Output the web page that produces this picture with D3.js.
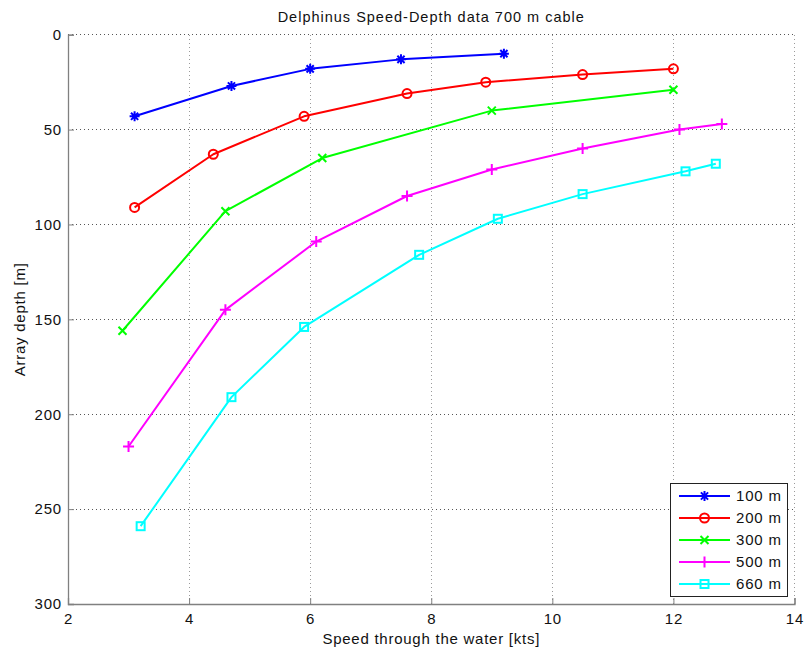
<!DOCTYPE html>
<html>
<head>
<meta charset="utf-8">
<script src="https://cdnjs.cloudflare.com/ajax/libs/d3/7.8.5/d3.min.js"></script>
<style>
  html, body { margin: 0; padding: 0; background: #fff; }
  svg { display: block; font-family: "Liberation Sans", Arial, sans-serif; }
</style>
</head>
<body>
<div id="chart"></div>
<script>
// Speed (kts) vs. array depth (m) for each cable-out length
const speed100 = [3.1, 4.7, 6.0, 7.5, 9.2];
const depth100 = [43, 27, 18, 13, 10];

const speed200 = [3.1, 4.4, 5.9, 7.6, 8.9, 10.5, 12.0];
const depth200 = [91, 63, 43, 31, 25, 21, 18];

const speed300 = [2.9, 4.6, 6.2, 9.0, 12.0];
const depth300 = [156, 93, 65, 40, 29];

const speed500 = [3.0, 4.6, 6.1, 7.6, 9.0, 10.5, 12.1, 12.8];
const depth500 = [217, 145, 109, 85, 71, 60, 50, 47];

const speed660 = [3.2, 4.7, 5.9, 7.8, 9.1, 10.5, 12.2, 12.7];
const depth660 = [259, 191, 154, 116, 97, 84, 72, 68];

const seriesNames = ["100 m", "200 m", "300 m", "500 m", "660 m"];
const xTicks = [2, 4, 6, 8, 10, 12, 14];
const yTicks = [0, 50, 100, 150, 200, 250, 300];

const series = [
  { name: seriesNames[0], xs: speed100, ys: depth100, color: "#0000ff", marker: "star" },
  { name: seriesNames[1], xs: speed200, ys: depth200, color: "#ff0000", marker: "circle" },
  { name: seriesNames[2], xs: speed300, ys: depth300, color: "#00ff00", marker: "x" },
  { name: seriesNames[3], xs: speed500, ys: depth500, color: "#ff00ff", marker: "plus" },
  { name: seriesNames[4], xs: speed660, ys: depth660, color: "#00ffff", marker: "square" }
];

const W = 808, H = 655;
const plotLeft = 68, plotRight = 794.5, plotTop = 34.7, plotBottom = 604;

const svg = d3.select("#chart").append("svg").attr("width", W).attr("height", H);

const x = d3.scaleLinear().domain([2, 14]).range([plotLeft, plotRight]);
const y = d3.scaleLinear().domain([0, 300]).range([plotTop, plotBottom]);

// Grid lines
const grid = svg.append("g");
grid.selectAll("line.vg").data(xTicks.slice(1)).join("line")
  .attr("x1", d => x(d)).attr("x2", d => x(d))
  .attr("y1", plotTop).attr("y2", plotBottom)
  .attr("stroke", "#9a9a9a").attr("stroke-width", 1)
  .attr("stroke-dasharray", "1,3").attr("shape-rendering", "crispEdges");
grid.selectAll("line.hg").data(yTicks.slice(0, -1)).join("line")
  .attr("x1", plotLeft).attr("x2", plotRight)
  .attr("y1", d => y(d)).attr("y2", d => y(d))
  .attr("stroke", "#555").attr("stroke-width", 1)
  .attr("stroke-dasharray", "1,3").attr("shape-rendering", "crispEdges");

// Axes
const xAxis = d3.axisBottom(x).tickValues(xTicks).tickSize(-6).tickPadding(9).tickFormat(d3.format("d"));
const yAxis = d3.axisLeft(y).tickValues(yTicks).tickSize(-6).tickPadding(6).tickFormat(d3.format("d"));

const gx = svg.append("g").attr("transform", `translate(0,${plotBottom})`).call(xAxis);
const gy = svg.append("g").attr("transform", `translate(${plotLeft},0)`).call(yAxis);
[gx, gy].forEach(g => {
  g.select(".domain").attr("stroke", "#808080").attr("stroke-width", 1.3);
  g.selectAll(".tick line").attr("stroke", "#808080");
  g.selectAll(".tick text").attr("fill", "#111").style("font-size", "15px")
    .style("letter-spacing", "0.8px")
    .style("font-family", "'Liberation Sans', Arial, sans-serif");
});

// Line + marker drawing
const line = d3.line().x(d => x(d[0])).y(d => y(d[1]));

function drawMarker(g, type, cx, cy, color) {
  const s = g.append("g").attr("transform", `translate(${cx},${cy})`)
    .attr("stroke", color).attr("fill", "none").attr("stroke-width", 2);
  if (type === "circle") {
    s.append("circle").attr("r", 4.5);
  } else if (type === "square") {
    s.append("rect").attr("x", -4).attr("y", -4).attr("width", 8).attr("height", 8);
  } else if (type === "plus") {
    s.append("path").attr("d", "M-5.5,0H5.5M0,-5.5V5.5");
  } else if (type === "x") {
    s.append("path").attr("d", "M-4,-4L4,4M-4,4L4,-4");
  } else if (type === "star") {
    s.append("path").attr("d", "M-5,0H5M0,-5V5M-3.6,-3.6L3.6,3.6M-3.6,3.6L3.6,-3.6");
  }
}

series.forEach(s => {
  const pts = s.xs.map((v, i) => [v, s.ys[i]]);
  svg.append("path").datum(pts).attr("d", line)
    .attr("fill", "none").attr("stroke", s.color).attr("stroke-width", 2)
    .attr("stroke-linejoin", "round");
  const mg = svg.append("g");
  pts.forEach(p => drawMarker(mg, s.marker, x(p[0]), y(p[1]), s.color));
});

// Legend
const lg = svg.append("g");
lg.append("rect").attr("x", 670.5).attr("y", 483.5).attr("width", 117).attr("height", 113)
  .attr("fill", "#fff").attr("stroke", "#222").attr("stroke-width", 1);
series.forEach((s, i) => {
  const ly = 496 + i * 22;
  lg.append("line").attr("x1", 679).attr("x2", 730).attr("y1", ly).attr("y2", ly)
    .attr("stroke", s.color).attr("stroke-width", 2);
  drawMarker(lg, s.marker, 704.5, ly, s.color);
  lg.append("text").attr("x", 736).attr("y", ly).attr("dy", "0.36em")
    .style("font-size", "15px").style("letter-spacing", "0.8px")
    .attr("fill", "#111").text(s.name);
});

// Title and axis labels
svg.append("text").attr("x", (plotLeft + plotRight) / 2).attr("y", 22).attr("text-anchor", "middle")
  .style("font-size", "14.5px").style("letter-spacing", "1px")
  .attr("fill", "#111").text("Delphinus Speed-Depth data 700 m cable");
svg.append("text").attr("x", (plotLeft + plotRight) / 2).attr("y", 644).attr("text-anchor", "middle")
  .style("font-size", "15px").style("letter-spacing", "0.75px")
  .attr("fill", "#111").text("Speed through the water [kts]");
svg.append("text").attr("transform", `translate(25,${(plotTop + plotBottom) / 2}) rotate(-90)`)
  .attr("text-anchor", "middle").style("font-size", "15px").style("letter-spacing", "0.75px")
  .attr("fill", "#111").text("Array depth [m]");
</script>
</body>
</html>
